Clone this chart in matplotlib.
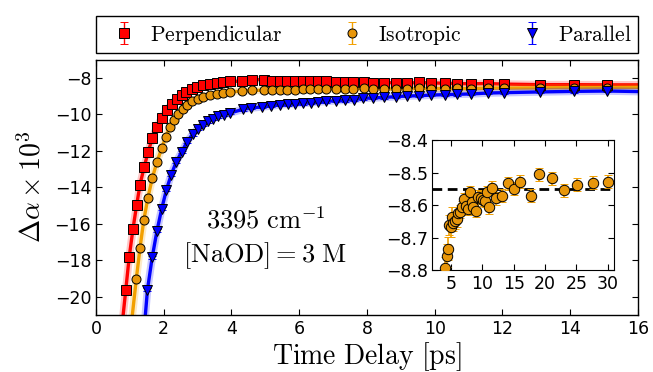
import numpy as np
import matplotlib.pyplot as plt

plt.rcParams['mathtext.fontset'] = 'cm'
plt.rcParams['font.family'] = 'DejaVu Sans'
plt.rcParams['axes.unicode_minus'] = True

# perpendicular (red squares)
perp_t = [0.88, 0.98, 1.09, 1.20, 1.30, 1.42, 1.54, 1.66, 1.80, 1.94, 2.09, 2.23,
          2.38, 2.53, 2.67, 2.82, 2.99, 3.17, 3.36, 3.56, 3.76, 3.97, 4.30, 4.62,
          4.97, 5.20, 5.43, 5.64, 5.87, 6.10, 6.33, 6.56, 6.80, 7.08, 7.35, 7.59,
          7.91, 8.18, 8.50, 8.85, 9.18, 9.54, 9.90, 10.29, 10.67, 11.08, 11.57,
          12.05, 13.10, 14.10, 15.10]
perp_y = [-19.62, -17.84, -16.31, -14.97, -13.86, -12.89, -12.06, -11.31, -10.67,
          -10.17, -9.75, -9.42, -9.15, -8.93, -8.75, -8.62, -8.49, -8.40, -8.31,
          -8.26, -8.22, -8.18, -8.17, -8.08, -8.09, -8.14, -8.15, -8.15, -8.16,
          -8.16, -8.17, -8.18, -8.18, -8.19, -8.21, -8.21, -8.22, -8.25, -8.26,
          -8.25, -8.28, -8.24, -8.27, -8.28, -8.30, -8.31, -8.30, -8.33, -8.36,
          -8.36, -8.37]

# isotropic (orange circles)
iso_t = [1.19, 1.30, 1.41, 1.53, 1.66, 1.80, 1.94, 2.06, 2.18, 2.30, 2.43, 2.56,
         2.69, 2.84, 3.00, 3.17, 3.36, 3.56, 3.76, 3.97, 4.30, 4.62, 4.97, 5.20,
         5.43, 5.64, 5.87, 6.10, 6.33, 6.56, 6.80, 7.08, 7.35, 7.59, 7.91, 8.18,
         8.50, 8.85, 9.18, 9.54, 9.90, 10.29, 10.67, 11.08, 11.57, 12.05, 13.10,
         14.10, 15.10]
iso_y = [-19.04, -17.33, -15.82, -14.60, -13.51, -12.60, -11.86, -11.22, -10.69,
         -10.29, -9.96, -9.69, -9.46, -9.28, -9.13, -9.02, -8.93, -8.86, -8.80,
         -8.75, -8.72, -8.68, -8.66, -8.64, -8.65, -8.64, -8.64, -8.62, -8.62,
         -8.61, -8.60, -8.59, -8.60, -8.60, -8.57, -8.58, -8.59, -8.60, -8.58,
         -8.57, -8.58, -8.58, -8.57, -8.59, -8.55, -8.55, -8.54, -8.52, -8.52]

# parallel (blue triangles)
par_t = [1.52, 1.66, 1.80, 1.94, 2.08, 2.22, 2.37, 2.53, 2.69, 2.85, 3.01, 3.16,
         3.31, 3.46, 3.61, 3.77, 3.97, 4.35, 4.59, 4.89, 5.18, 5.43, 5.67, 5.87,
         6.12, 6.34, 6.56, 6.80, 7.08, 7.35, 7.61, 7.89, 8.18, 8.50, 8.85, 9.18,
         9.54, 9.90, 10.29, 10.67, 11.08, 11.57, 12.05, 13.10, 14.10, 15.10]
par_y = [-19.62, -17.84, -16.39, -15.18, -14.13, -13.31, -12.60, -12.06, -11.49,
         -11.09, -10.77, -10.55, -10.37, -10.22, -10.11, -10.02, -9.91, -9.71,
         -9.64, -9.58, -9.53, -9.47, -9.44, -9.40, -9.39, -9.35, -9.31, -9.28,
         -9.24, -9.22, -9.18, -9.11, -9.09, -9.06, -9.02, -8.98, -8.97, -8.93,
         -8.91, -8.89, -8.87, -8.82, -8.80, -8.76, -8.73, -8.71]

# where the fit lines leave the frame
perp_ends = [(0.78, -21.4), (16.0, -8.37)]
iso_ends = [(1.05, -21.4), (16.0, -8.51)]
par_ends = [(1.44, -21.4), (16.0, -8.74)]

perp_err = 0.08
iso_err = 0.08
par_err = 0.08

# inset: isotropic out to 30 ps
in_t = [4.01, 4.29, 4.50, 4.61, 4.93, 5.09, 5.36, 5.62, 5.89, 6.10, 6.42, 6.74,
        7.06, 7.38, 7.70, 8.02, 8.30, 8.57, 8.93, 9.30, 9.73, 10.10, 10.42, 10.80,
        11.07, 11.60, 12.14, 13.10, 14.15, 15.10, 16.06, 17.70, 19.00, 21.07,
        23.08, 25.10, 27.60, 30.10]
in_y = [-8.793, -8.755, -8.734, -8.660, -8.667, -8.635, -8.655, -8.647, -8.643,
        -8.625, -8.620, -8.606, -8.582, -8.604, -8.611, -8.561, -8.589, -8.606,
        -8.617, -8.574, -8.577, -8.584, -8.587, -8.561, -8.606, -8.546, -8.579,
        -8.571, -8.533, -8.550, -8.528, -8.571, -8.505, -8.518, -8.554, -8.538,
        -8.531, -8.528]
in_err = [0.035, 0.035, 0.035, 0.03, 0.03, 0.03, 0.025, 0.025, 0.025, 0.02, 0.02,
          0.02, 0.02, 0.02, 0.02, 0.02, 0.02, 0.02, 0.02, 0.02, 0.02, 0.02, 0.02,
          0.02, 0.02, 0.02, 0.02, 0.02, 0.02, 0.02, 0.02, 0.02, 0.02, 0.02, 0.02,
          0.02, 0.02, 0.02]
plateau = -8.55

red = '#FF0000'
orange = '#F2A000'
orange_face = '#E8960A'
blue = '#0000FF'

fig = plt.figure(figsize=(6.53, 3.72), dpi=100)
ax = fig.add_axes([0.147, 0.154, 0.83, 0.685])

series = [
    (perp_t, perp_y, perp_ends, perp_err, red, red, 's', 6.5, r'$\mathrm{Perpendicular}$'),
    (iso_t, iso_y, iso_ends, iso_err, orange, orange_face, 'o', 6.5, r'$\mathrm{Isotropic}$'),
    (par_t, par_y, par_ends, par_err, blue, blue, 'v', 7, r'$\mathrm{Parallel}$'),
]

# fit lines underneath
for t, y, ends, err, c, fc, m, ms, lab in series:
    lt = [ends[0][0]] + t + [ends[1][0]]
    ly = [ends[0][1]] + y + [ends[1][1]]
    ax.plot(lt, ly, color=c, lw=5.5, alpha=0.22, zorder=2)
    ax.plot(lt, ly, color=c, lw=2.4, zorder=2)

handles = []
for t, y, ends, err, c, fc, m, ms, lab in series:
    h = ax.errorbar(t, y, yerr=err, fmt=m, mfc=fc, mec='k', mew=0.7, ms=ms,
                    ecolor=c, elinewidth=1, capsize=3, label=lab, zorder=3)
    handles.append(h)

ax.set_xlim(0, 16)
ax.set_ylim(-21, -7)
ax.set_xticks(np.arange(0, 17, 2))
ax.set_yticks(np.arange(-20, -7, 2))
ax.tick_params(direction='in', top=True, right=True, length=4, width=0.8,
               labelsize=12.5)
for s in ax.spines.values():
    s.set_linewidth(1.0)

ax.set_xlabel(r'$\mathrm{Time\ Delay\ [ps]}$', fontsize=20, labelpad=2)
ax.set_ylabel(r'$\Delta\alpha\times10^3$', fontsize=20, labelpad=6)

ax.text(5.0, -15.84, r'$3395\ \mathrm{cm}^{-1}$', fontsize=19, ha='center', va='center')
ax.text(5.0, -17.74, r'$[\mathrm{NaOD}] = 3\ \mathrm{M}$', fontsize=19, ha='center', va='center')

leg = ax.legend(handles=handles, loc='lower left', bbox_to_anchor=(0, 1.027, 1, 0.15),
                mode='expand', ncol=3, borderaxespad=0, numpoints=1, handlelength=2.0,
                fancybox=False, framealpha=1, edgecolor='k', fontsize=15.5,
                borderpad=0.3, handletextpad=0.2)
leg.get_frame().set_linewidth(1.0)

# inset
axin = fig.add_axes([0.662, 0.273, 0.278, 0.351])
axin.axhline(plateau, color='k', ls='--', lw=2, dashes=(3.5, 2), zorder=2)
axin.errorbar(in_t, in_y, yerr=in_err, fmt='o', mfc=orange_face, mec='k', mew=0.7,
              ms=7.5, ecolor=orange, elinewidth=1.2, capsize=3, zorder=3)
axin.set_xlim(2, 31)
axin.set_ylim(-8.8, -8.4)
axin.set_xticks([5, 10, 15, 20, 25, 30])
axin.set_yticks([-8.8, -8.7, -8.6, -8.5, -8.4])
axin.ticklabel_format(useOffset=False)
axin.tick_params(direction='in', top=True, right=True, length=4, width=0.8,
                 labelsize=12.5, pad=3)

fig.savefig('out.png', dpi=100)
